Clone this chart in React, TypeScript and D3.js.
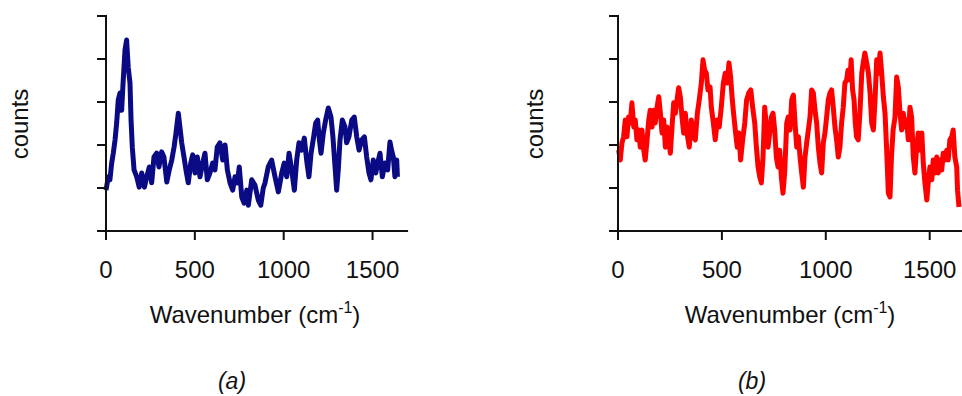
import React from "react";
import * as d3 from "d3";

// spectrum (a)
const waveA = [
  0, 13, 22, 32, 41, 51, 60, 69, 79, 88, 97, 107, 116, 125, 135, 141, 148, 158, 173, 187,
  201, 216, 229, 244, 257, 270, 285, 298, 313, 326, 342, 356, 370, 383, 394, 407, 416, 426, 439, 450,
  463, 477, 488, 501, 514, 529, 544, 557, 570, 585, 600, 613, 626, 641, 657, 670, 683, 698, 713, 726,
  739, 750, 764, 777, 792, 801, 820, 838, 857, 871, 885, 895, 913, 932, 951, 970, 989, 1003, 1017, 1030,
  1045, 1060, 1073, 1086, 1101, 1116, 1129, 1142, 1154, 1166, 1180, 1191, 1199, 1210, 1223, 1236, 1251, 1266, 1277, 1289,
  1298, 1307, 1317, 1330, 1345, 1354, 1367, 1383, 1397, 1411, 1424, 1439, 1454, 1467, 1480, 1491, 1504, 1518, 1529, 1542,
  1555, 1570, 1585, 1598, 1607, 1617, 1626, 1636, 1640,
];
const countsA = [
  0.95, 1.26, 1.19, 1.58, 1.81, 2.12, 2.51, 3.05, 3.21, 2.81, 3.51, 4.21, 4.44, 3.81, 3.44, 2.58, 1.95, 1.42, 1.26, 1.02,
  1.35, 1.02, 1.26, 1.49, 1.12, 1.72, 1.81, 1.49, 1.84, 1.72, 1.14, 1.42, 1.65, 1.95, 2.28, 2.74, 2.42, 2.05, 1.72, 1.42,
  1.12, 1.58, 1.77, 1.35, 1.72, 1.26, 1.58, 1.81, 1.19, 1.35, 1.58, 1.42, 1.95, 2.05, 1.65, 2.0, 1.42, 1.12, 0.95, 1.26,
  1.12, 1.49, 0.79, 0.65, 0.95, 0.6, 1.19, 1.07, 0.72, 0.6, 1.0, 1.12, 1.49, 1.65, 1.26, 0.91, 1.35, 1.58, 1.26, 1.81,
  1.42, 0.95, 1.65, 2.05, 1.88, 2.16, 1.65, 1.26, 1.81, 2.12, 2.51, 2.58, 2.19, 1.81, 2.28, 2.58, 2.86, 2.65, 2.19, 1.49,
  0.95, 1.42, 2.12, 2.58, 2.42, 2.05, 2.19, 2.58, 2.65, 2.19, 1.88, 2.12, 2.19, 1.72, 1.35, 1.19, 1.65, 1.35, 1.58, 1.81,
  1.26, 1.58, 1.42, 2.07, 1.88, 1.72, 1.26, 1.65, 1.26,
];

// spectrum (b)
const waveB = [
  3, 11, 19, 27, 35, 43, 51, 59, 67, 76, 83, 91, 100, 107, 115, 124, 131, 140, 148, 155,
  164, 172, 179, 188, 196, 204, 212, 220, 228, 236, 244, 252, 260, 268, 276, 284, 292, 300, 308, 316,
  324, 332, 343, 353, 362, 372, 382, 391, 401, 409, 417, 425, 433, 443, 449, 459, 468, 478, 487, 497,
  507, 516, 526, 534, 542, 550, 558, 566, 574, 582, 590, 600, 610, 619, 629, 639, 648, 658, 666, 674,
  682, 690, 698, 706, 714, 722, 730, 738, 746, 754, 762, 770, 778, 786, 794, 802, 812, 819, 828, 836,
  844, 852, 860, 868, 876, 884, 892, 900, 908, 916, 924, 932, 940, 948, 956, 964, 972, 980, 988, 996,
  1004, 1012, 1020, 1028, 1036, 1044, 1052, 1060, 1068, 1076, 1084, 1092, 1100, 1107, 1116, 1122, 1129, 1136, 1142, 1148,
  1156, 1165, 1173, 1180, 1188, 1197, 1205, 1213, 1221, 1229, 1237, 1245, 1253, 1261, 1269, 1277, 1285, 1293, 1301, 1309,
  1316, 1324, 1333, 1341, 1349, 1357, 1365, 1373, 1381, 1389, 1397, 1405, 1413, 1421, 1429, 1437, 1445, 1453, 1462, 1469,
  1477, 1486, 1494, 1501, 1510, 1517, 1525, 1534, 1541, 1549, 1558, 1565, 1573, 1582, 1589, 1597, 1606, 1613, 1621, 1630,
  1634, 1641,
];
const countsB = [
  1.88, 1.65, 2.05, 2.19, 2.58, 2.19, 2.65, 2.51, 2.98, 2.42, 2.58, 2.12, 2.35, 1.95, 2.35, 1.88, 1.65, 2.12, 2.58, 2.81,
  2.42, 2.81, 2.51, 2.88, 3.12, 2.74, 2.28, 2.58, 1.95, 2.42, 2.12, 1.81, 2.42, 2.98, 2.74, 3.05, 3.33, 3.12, 2.65, 2.28,
  2.74, 2.28, 1.95, 2.58, 2.19, 2.12, 2.74, 3.05, 3.44, 3.98, 3.74, 3.67, 3.28, 3.35, 2.88, 2.51, 2.12, 2.58, 2.42, 2.88,
  3.44, 3.67, 3.44, 3.91, 3.58, 3.05, 2.65, 2.28, 1.95, 2.28, 1.65, 2.12, 2.51, 3.05, 3.21, 3.28, 2.88, 2.51, 1.95, 1.49,
  1.26, 1.12, 1.72, 2.88, 2.42, 1.95, 2.28, 2.65, 2.74, 2.35, 1.72, 1.49, 1.88, 1.26, 0.88, 1.35, 2.51, 2.65, 2.35, 3.05,
  3.16, 2.51, 1.95, 2.19, 1.72, 1.35, 1.02, 1.72, 2.05, 2.35, 2.65, 3.28, 3.21, 2.81, 2.51, 1.95, 1.58, 1.35, 2.05, 2.28,
  2.65, 3.05, 3.21, 3.28, 2.88, 2.42, 2.12, 1.72, 1.95, 2.51, 2.88, 3.44, 3.51, 3.74, 3.51, 3.98, 3.28, 3.05, 2.51, 2.19,
  2.12, 2.81, 3.67, 3.91, 4.14, 3.91, 3.67, 3.21, 2.51, 2.35, 3.05, 3.98, 3.67, 4.14, 3.67, 3.12, 2.74, 1.88, 0.88, 0.79,
  1.72, 2.35, 2.65, 3.58, 3.35, 2.74, 2.35, 2.74, 2.42, 2.58, 2.12, 2.88, 2.65, 1.72, 1.35, 1.95, 2.28, 1.88, 2.28, 1.58,
  1.12, 0.72, 1.19, 1.49, 1.19, 1.65, 1.35, 1.72, 1.35, 1.65, 1.42, 1.81, 1.65, 1.88, 1.65, 2.12, 2.19, 2.35, 1.72, 1.49,
  0.95, 0.56,
];

const xTicks = [0, 500, 1000, 1500];
const yTicks = [0, 1, 2, 3, 4, 5];

const FONT = "Liberation Sans, Arial, sans-serif";

type PanelProps = {
  left: number;
  pxPerUnit: number;
  wave: number[];
  counts: number[];
  color: string;
  labelX: number;
  captionX: number;
  caption: string;
  ylabelX: number;
};

const Panel = ({ left, pxPerUnit, wave, counts, color, labelX, captionX, caption, ylabelX }: PanelProps) => {
  const top = 16;
  const bottom = 231;
  const x = d3.scaleLinear().domain([0, 1700]).range([left, left + 1700 * pxPerUnit]);
  const y = d3.scaleLinear().domain([0, 5]).range([bottom, top]);
  const pts = wave.map((w, i) => [w, counts[i]] as [number, number]);
  const line = d3
    .line<[number, number]>()
    .x((d) => x(d[0]))
    .y((d) => y(d[1]));

  return (
    <g>
      <path d={line(pts) || ""} fill="none" stroke={color} strokeWidth={5} strokeLinejoin="round" />
      {/* y axis */}
      <line x1={left} x2={left} y1={top - 1} y2={bottom} stroke="#111" strokeWidth={2} />
      {yTicks.map((t) => (
        <line key={t} x1={left - 9} x2={left} y1={y(t)} y2={y(t)} stroke="#111" strokeWidth={2} />
      ))}
      {/* x axis */}
      <line x1={left} x2={x(1700)} y1={bottom} y2={bottom} stroke="#111" strokeWidth={2} />
      {xTicks.map((t) => (
        <g key={t}>
          <line x1={x(t)} x2={x(t)} y1={bottom} y2={bottom + 9} stroke="#111" strokeWidth={2} />
          <text x={x(t)} y={278} textAnchor="middle" fontSize={24} fontFamily={FONT} fill="#111">
            {t}
          </text>
        </g>
      ))}
      <text x={labelX} y={323} textAnchor="middle" fontSize={24} fontFamily={FONT} fill="#111">
        Wavenumber (cm
        <tspan fontSize={16} dy={-10}>-1</tspan>
        <tspan dy={10}>)</tspan>
      </text>
      <text
        transform={`translate(${ylabelX},124) rotate(-90)`}
        textAnchor="middle"
        fontSize={24}
        fontFamily={FONT}
        fill="#111"
      >
        counts
      </text>
      <text x={captionX} y={389} textAnchor="middle" fontSize={23} fontStyle="italic" fontFamily={FONT} fill="#111">
        {caption}
      </text>
    </g>
  );
};

export default function App() {
  return (
    <div style={{ position: "absolute", left: 0, top: 0 }}>
      <svg width={962} height={396} style={{ display: "block", background: "#fff" }}>
        <Panel
          left={106}
          pxPerUnit={0.1777}
          wave={waveA}
          counts={countsA}
          color="#0a0a85"
          labelX={255}
          captionX={232}
          caption="(a)"
          ylabelX={28}
        />
        <Panel
          left={618}
          pxPerUnit={0.2078}
          wave={waveB}
          counts={countsB}
          color="#ff0000"
          labelX={790}
          captionX={752}
          caption="(b)"
          ylabelX={543}
        />
      </svg>
    </div>
  );
}
